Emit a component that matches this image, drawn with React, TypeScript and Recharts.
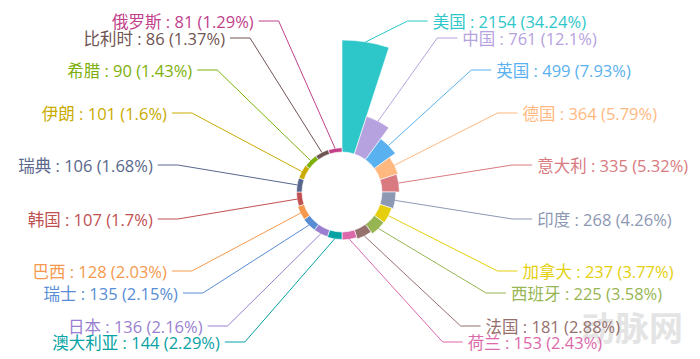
import React from 'react';
import { PieChart, Pie, Sector } from 'recharts';

const countries = ['美国', '中国', '英国', '德国', '意大利', '印度', '加拿大', '西班牙', '法国', '荷兰', '澳大利亚', '日本', '瑞士', '巴西', '韩国', '瑞典', '伊朗', '希腊', '比利时', '俄罗斯'];
const counts = [2154, 761, 499, 364, 335, 268, 237, 225, 181, 153, 144, 136, 135, 128, 107, 106, 101, 90, 86, 81];
const percents = ['34.24', '12.1', '7.93', '5.79', '5.32', '4.26', '3.77', '3.58', '2.88', '2.43', '2.29', '2.16', '2.15', '2.03', '1.7', '1.68', '1.6', '1.43', '1.37', '1.29'];
const colors = ['#2ec7c9', '#b6a2de', '#5ab1ef', '#ffb980', '#d87a80', '#8d98b3', '#e5cf0d', '#97b552', '#95706d', '#dc69aa', '#07a2a4', '#9a7fd1', '#588dd5', '#f5994e', '#c05050', '#59678c', '#c9ab00', '#7eb00a', '#6f5553', '#c14089'];

const data = countries.map((name, i) => ({ name, value: counts[i], pct: percents[i], fill: colors[i], idx: i }));

// layout
const W = 700;
const H = 359;
const CX = 342;
const CY = 192;
const R0 = 40;
const R1 = 152;
const LABEL_ROW_Y = [21, 38, 70, 113, 165, 219, 271, 293, 326, 342];
const FONT = '"Open Sans", "Noto Sans CJK SC", sans-serif';
const RAD = Math.PI / 180;

const maxVal = Math.max(...counts);
const radiusOf = (v: number) => R0 + ((R1 - R0) * v) / maxVal;

const RoseSector = (props: any) => {
  const { cx, cy, innerRadius, startAngle, endAngle, payload } = props;
  const item = payload && payload.payload ? payload.payload : payload;
  return (
    <Sector
      cx={cx}
      cy={cy}
      innerRadius={innerRadius}
      outerRadius={radiusOf(item.value)}
      startAngle={startAngle}
      endAngle={endAngle}
      fill={item.fill}
      stroke="#fff"
      strokeWidth={0.6}
    />
  );
};

const renderLabel = (props: any) => {
  const { cx, cy, midAngle, index } = props;
  const item = data[index];
  const right = index < 10;
  const row = right ? index : 19 - index;
  const y = LABEL_ROW_Y[row];
  const r = radiusOf(item.value);
  const ax = cx + r * Math.cos(-midAngle * RAD);
  const ay = cy + r * Math.sin(-midAngle * RAD);
  const a = right ? 172 : 166;
  const b = 185;
  const dy = y - cy;
  const dx = a * Math.sqrt(Math.max(0, 1 - (dy / b) * (dy / b)));
  const dir = right ? 1 : -1;
  const ex = cx + dir * dx;
  const endX = ex + dir * 20;
  const tx = endX + dir * 5;
  return (
    <g key={`lbl-${index}`}>
      <polyline points={`${ax},${ay} ${ex},${y} ${endX},${y}`} fill="none" stroke={item.fill} strokeWidth={1} />
      <text
        x={tx}
        y={y}
        fill={item.fill}
        textAnchor={right ? 'start' : 'end'}
        dominantBaseline="central"
        fontSize={16.5}
        fontFamily={FONT}
      >
        {`${item.name} : ${item.value} (${item.pct}%)`}
      </text>
    </g>
  );
};

export default function App() {
  return (
    <div style={{ width: W, height: H, position: 'absolute', left: 0, top: 0, background: '#fff' }}>
      <PieChart width={W} height={H} margin={{ top: 0, right: 0, bottom: 0, left: 0 }}>
        <text x={632} y={328} textAnchor="middle" dominantBaseline="central" fontSize={34} fontWeight={700} fill="#e4e4e4" fontFamily={FONT}>
          动脉网
        </text>
        <Pie
          data={data}
          dataKey={() => 1}
          nameKey="name"
          cx={CX}
          cy={CY}
          innerRadius={R0}
          outerRadius={R1}
          startAngle={90}
          endAngle={-270}
          isAnimationActive={false}
          shape={RoseSector}
          label={renderLabel}
          labelLine={false}
        />
      </PieChart>
    </div>
  );
}
